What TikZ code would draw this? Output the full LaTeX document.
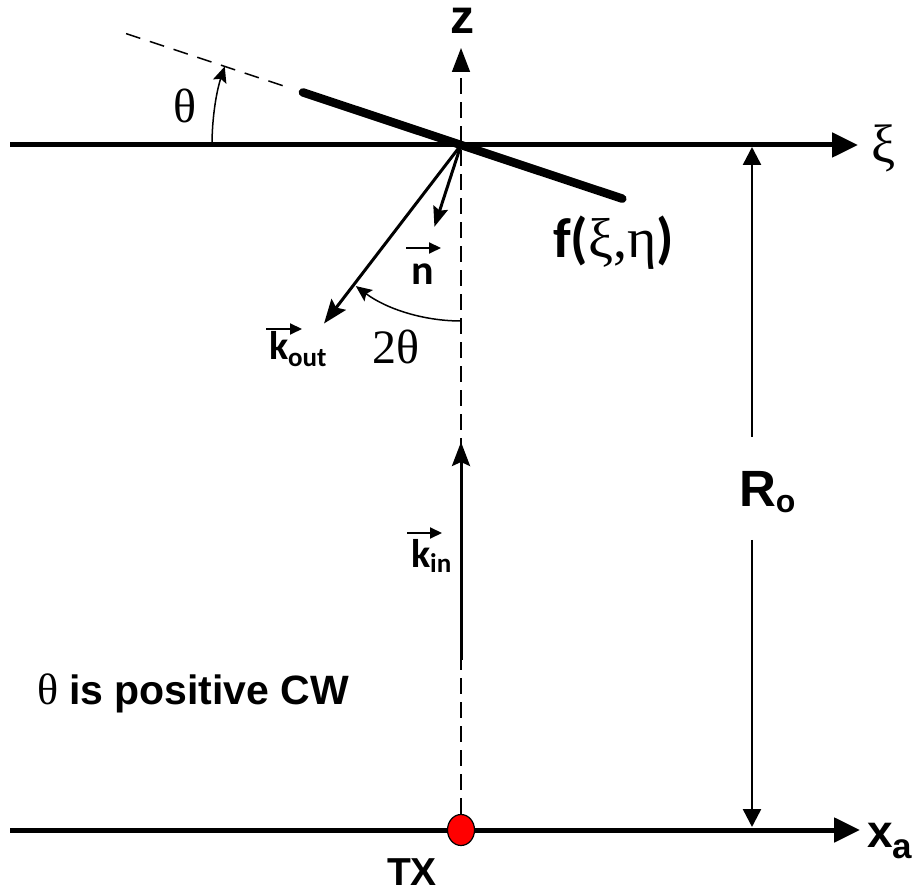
\documentclass[tikz,border=0pt]{standalone}
\usepackage{fontspec}
\setmainfont{Liberation Sans}
\newfontfamily\tmsf{Liberation Serif}
\newfontfamily\carl{Carlito}
\usetikzlibrary{arrows.meta,calc,shapes.geometric}
\newcommand\fsz[1]{\fontsize{#1}{#1}\selectfont}
\begin{document}
\begin{tikzpicture}[x=1pt,y=1pt,
  axisline/.style={line width=5pt,-{Triangle[length=26pt,width=24pt]}},
  zaxis/.style={line width=1.5pt,dash pattern=on 16pt off 8pt,-{Triangle[length=24pt,width=18pt]}},
  extline/.style={line width=1.5pt,dash pattern=on 15pt off 10pt},
  plate/.style={line width=8.5pt,line cap=round},
  vecarrow/.style={line width=3pt,-{Stealth[length=24pt,width=18pt,inset=4pt]}},
  nvec/.style={line width=3pt,-{Stealth[length=20pt,width=15pt,inset=3pt]}},
  arcarrow/.style={line width=1.5pt,-{Stealth[length=16pt,width=14pt,inset=3pt]}},
  dimarrow/.style={line width=2.5pt,-{Triangle[length=18pt,width=18pt]}},
  vecmark/.style={line width=2pt,-{Triangle[length=12pt,width=11pt]}},
  lbl/.style={inner sep=0pt,outer sep=0pt},
]
\useasboundingbox (0,0) rectangle (915,892);
% coordinates
\coordinate (O) at (461,747);
\coordinate (xil) at (10,747);
\coordinate (xir) at (858,747);
\coordinate (xal) at (10,62);
\coordinate (xar) at (860,62);
\coordinate (ztop) at (461,844);
\coordinate (pl) at ($(O)+(161.6:166.6)$);
\coordinate (pr) at ($(O)+(-18.4:170)$);
\coordinate (dl) at ($(O)+(161.6:353)$);
\coordinate (dr) at ($(O)+(161.6:185)$);
\coordinate (ntip) at ($(O)+(252:86)$);
\coordinate (kotip) at ($(O)+(232.5:225)$);
\coordinate (kinb) at (461,232);
\coordinate (kint) at (461,450);
\coordinate (rtop1) at (752,455);
\coordinate (rtop2) at (752,745);
\coordinate (rbot1) at (752,352);
\coordinate (rbot2) at (752,65);
% axes
\draw[axisline] (xil) -- (xir);
\draw[axisline] (xal) -- (xar);
\node[ellipse,draw,line width=1.2pt,fill=red,minimum width=27pt,minimum height=31pt,inner sep=0pt] (tx) at (461,62) {};
\draw[zaxis] (tx.north) -- (ztop);
% plate
\draw[extline] (dl) -- (dr);
\draw[plate] (pl) -- (pr);
% theta arc
\draw[arcarrow] ($(O)+(180:249)$) arc[start angle=180,end angle=161.6,radius=249];
% vectors
\draw[nvec] (O) -- (ntip);
\draw[vecarrow] (O) -- (kotip);
\draw[arcarrow] ($(O)+(270:176)$) arc[start angle=270,end angle=233.3,radius=176];
\draw[vecarrow] (kinb) -- (kint);
% dimension
\draw[dimarrow] (rtop1) -- (rtop2);
\draw[dimarrow] (rbot1) -- (rbot2);
% labels
\node[lbl,anchor=base] (zl) at (462,858) {\bfseries\fsz{48}z};
\node[lbl] (xil) at (884,744) {\tmsf\fsz{54}ξ};
\node[lbl] (thl) at (185,786) {\tmsf\fsz{48}θ};
\node[lbl] (th2) at (396,545) {\tmsf\fsz{48}2θ};
\node[lbl,anchor=base west] (fl) at (553,634) {\carl\bfseries\fsz{56}f(\tmsf\mdseries ξ,η\carl\bfseries)};
\node[lbl,anchor=base west] (nl) at (411,607) {\carl\bfseries\fsz{42}n};
\draw[vecmark] ($(nl.base west)+(-5,37)$) -- ++(35,0);
\node[lbl,anchor=base west] (kol) at (269,532) {\carl\bfseries\fsz{40}k\raisebox{-7pt}{\fsz{27}out}};
\draw[vecmark] ($(kol.base west)+(-3,31)$) -- ++(36,0);
\node[lbl,anchor=base west] (kil) at (411,324) {\carl\bfseries\fsz{40}k\raisebox{-5pt}{\fsz{27}in}};
\draw[vecmark] ($(kil.base west)+(-4,35)$) -- ++(35,0);
\node[lbl,anchor=base west] (rl) at (739,385) {\bfseries\fsz{51}R\raisebox{-6pt}{\fsz{32}o}};
\node[lbl,anchor=base west] (xal) at (867,45) {\bfseries\fsz{46}x\raisebox{-11pt}{\fsz{35}a}};
\node[lbl] (txl) at (412,20) {\bfseries\fsz{39}TX};
\node[lbl,anchor=base west] (cw) at (37,188) {\tmsf\fsz{44}θ \rmfamily\bfseries\fsz{41}is positive CW};
\end{tikzpicture}
\end{document}
